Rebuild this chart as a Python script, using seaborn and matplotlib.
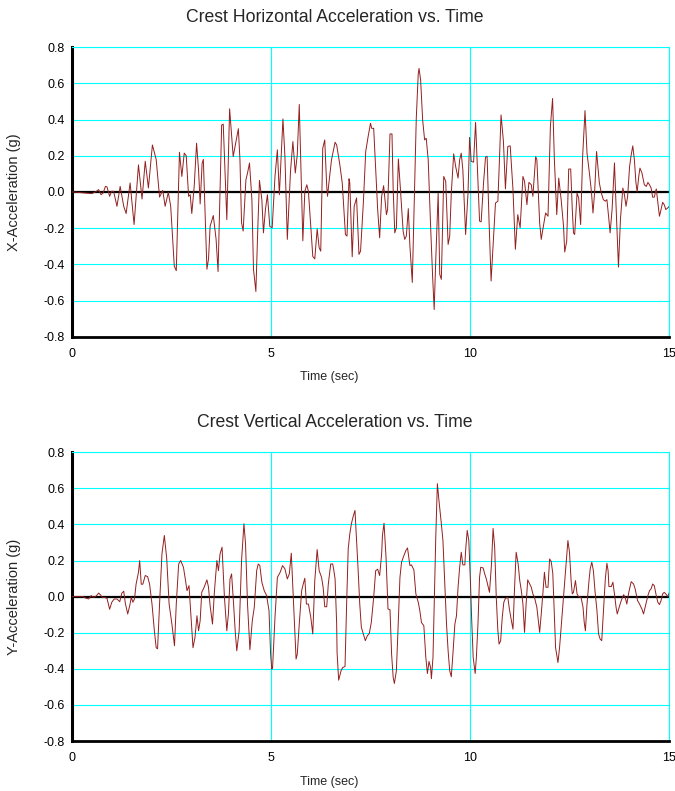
import numpy as np
import pandas as pd
import matplotlib
matplotlib.use("Agg")
import matplotlib.pyplot as plt
import seaborn as sns

# Crest horizontal acceleration record (time in s, acceleration in g)
time_x = [0.00, 0.04, 0.29, 0.50, 0.585, 0.67, 0.73, 0.78, 0.84, 0.88, 0.945, 0.995, 1.045,
          1.13, 1.21, 1.30, 1.36, 1.46, 1.56, 1.67, 1.76, 1.84, 1.92, 2.02, 2.115, 2.20, 2.28,
          2.34, 2.42, 2.48, 2.57, 2.62, 2.70, 2.76, 2.82, 2.87, 2.93, 2.97, 3.01,
          3.07, 3.13, 3.18, 3.22, 3.27, 3.30, 3.39, 3.43, 3.47, 3.55, 3.62, 3.67, 3.76, 3.80,
          3.89, 3.96, 4.05, 4.12, 4.18, 4.22, 4.26, 4.30, 4.37, 4.41, 4.46, 4.52, 4.56, 4.62,
          4.67, 4.71, 4.77, 4.81, 4.86, 4.91, 4.97, 5.03, 5.10, 5.16, 5.21, 5.30, 5.35, 5.41,
          5.49, 5.55, 5.61, 5.66, 5.71, 5.80, 5.85, 5.90, 5.94, 6.00, 6.05, 6.10,
          6.16, 6.21, 6.25, 6.30, 6.35, 6.40, 6.42, 6.45, 6.52, 6.61, 6.65, 6.73, 6.79, 6.83,
          6.87, 6.91, 6.96, 6.98, 7.04, 7.09, 7.15, 7.21, 7.25, 7.32, 7.38, 7.44, 7.50, 7.53,
          7.58, 7.63, 7.68, 7.73, 7.78, 7.83, 7.90, 7.93, 7.99, 8.04, 8.07, 8.11, 8.15, 8.20,
          8.25, 8.32, 8.36, 8.40, 8.45, 8.49, 8.55, 8.61, 8.65, 8.70, 8.72, 8.76, 8.81, 8.86,
          8.90, 8.95, 9.01, 9.06, 9.10,
          9.14, 9.20, 9.24, 9.28, 9.34, 9.39, 9.45, 9.49, 9.53, 9.59, 9.64, 9.70, 9.74, 9.78,
          9.82, 9.89, 9.95, 9.99, 10.03, 10.09, 10.14, 10.20, 10.24, 10.28, 10.34, 10.39, 10.43,
          10.48, 10.53, 10.59, 10.64, 10.70, 10.74, 10.78, 10.84, 10.89, 10.95, 11.01, 11.08,
          11.14, 11.20, 11.26, 11.33, 11.37, 11.43, 11.48, 11.54, 11.58, 11.65, 11.68, 11.75,
          11.79, 11.83, 11.90, 11.96, 12.02, 12.075,
          12.12, 12.18, 12.23, 12.29, 12.35, 12.38, 12.43, 12.48, 12.53, 12.57, 12.60, 12.63,
          12.69, 12.73, 12.78, 12.83, 12.89, 12.94, 13.00, 13.05, 13.09, 13.13, 13.18, 13.25,
          13.30, 13.35, 13.40, 13.44, 13.49, 13.52, 13.57, 13.63, 13.67, 13.73, 13.78, 13.84,
          13.88, 13.92, 13.96, 14.01, 14.05, 14.09, 14.13, 14.17, 14.20, 14.24, 14.27, 14.32,
          14.38, 14.43, 14.47, 14.51, 14.55, 14.59, 14.63, 14.68, 14.72, 14.76, 14.80, 14.84,
          14.88, 14.92, 14.97, 15.00]
acc_x = [0.0, 0.0, -0.005, -0.009, 0.0, 0.013, -0.015, -0.006, 0.031, 0.028, -0.024, 0.004, 0.004,
         -0.079, 0.031, -0.079, -0.119, 0.05, -0.18, 0.15, -0.039, 0.17, 0.022, 0.26, 0.18, -0.028, 0.009,
         -0.079, -0.002, -0.079, -0.41, -0.435, 0.22, 0.086, 0.215, 0.20, -0.024, -0.015, -0.119,
         0.03, 0.27, 0.12, -0.066, 0.16, 0.18, -0.427, -0.37, -0.19, -0.13, -0.26, -0.44, 0.37, 0.375,
         -0.153, 0.46, 0.196, 0.28, 0.35, 0.178, -0.17, -0.216, 0.068, 0.105, 0.16, -0.042, -0.427, -0.55,
         -0.19, 0.064, -0.042, -0.226, -0.097, -0.015, -0.19, -0.198, 0.086, 0.233, -0.015, 0.404, 0.196, -0.262,
         0.114, 0.279, 0.105, 0.206, 0.484, -0.27, 0.004, 0.04, 0.004, -0.19, -0.356, -0.37,
         -0.204, -0.308, -0.327, 0.242, 0.288, 0.031, -0.024, 0.04, 0.178, 0.275, 0.26, 0.15, 0.05, -0.097,
         -0.235, -0.244, 0.073, 0.05, -0.358, -0.079, -0.033, -0.345, -0.327, -0.061, 0.224, 0.306, 0.38, 0.352,
         0.352, 0.123, -0.097, -0.253, -0.024, 0.035, -0.125, -0.097, 0.321, 0.321, 0.013, -0.226, -0.198, 0.183,
         0.022, -0.217, -0.262, -0.244, -0.092, -0.299, -0.50, 0.031, 0.407, 0.655, 0.683, 0.618, 0.398, 0.288,
         0.297, 0.178, -0.189, -0.463, -0.65,
         -0.373, -0.006, -0.455, -0.483, 0.086, 0.059, -0.290, -0.244, -0.006, 0.211, 0.141, 0.077, 0.178, 0.215,
         0.123, -0.235, -0.006, 0.302, 0.169, 0.165, 0.385, 0.05, -0.161, -0.165, 0.05, 0.193, 0.197,
         -0.171, -0.492, -0.262, -0.061, -0.051, 0.178, 0.426, 0.279, 0.017, 0.252, 0.255, 0.013,
         -0.317, -0.125, -0.198, 0.086, 0.059, -0.070, 0.053, 0.040, -0.024, 0.196, 0.178, -0.171,
         -0.262, -0.207, -0.116, -0.134, 0.363, 0.517,
         0.178, -0.125, 0.077, -0.042, -0.189, -0.332, -0.272, 0.127, 0.127, -0.097, -0.226, -0.235,
         -0.006, -0.033, -0.180, 0.196, 0.45, 0.215, 0.105, 0.004, -0.116, -0.006, 0.224, 0.05,
         -0.006, -0.042, -0.051, -0.042, -0.153, -0.226, -0.097, 0.161, -0.079, -0.415, -0.152, 0.022,
         -0.015, -0.079, -0.024, 0.141, 0.205, 0.255, 0.178, 0.050, 0.0, 0.086, 0.132, 0.105,
         0.040, 0.031, 0.053, 0.040, 0.022, -0.029, -0.028, 0.017, -0.061, -0.134, -0.097, -0.057,
         -0.070, -0.097, -0.088, -0.08]

# Crest vertical acceleration record (time in s, acceleration in g)
time_y = [0.00, 0.06, 0.29, 0.33, 0.42, 0.48, 0.54, 0.61, 0.67, 0.71, 0.77, 0.81, 0.88, 0.945,
          1.00, 1.06, 1.13, 1.20, 1.25, 1.30, 1.34, 1.40, 1.45, 1.49, 1.53, 1.57, 1.61, 1.67,
          1.70, 1.74, 1.78, 1.84, 1.90, 1.95, 2.01, 2.07, 2.115, 2.15, 2.20, 2.26, 2.32, 2.38,
          2.44, 2.51, 2.575, 2.62, 2.68, 2.73, 2.80, 2.84, 2.89, 2.94, 2.99, 3.04,
          3.09, 3.14, 3.18, 3.22, 3.26, 3.32, 3.39, 3.43, 3.47, 3.53, 3.58, 3.64, 3.68, 3.72,
          3.77, 3.83, 3.89, 3.93, 3.97, 4.01, 4.06, 4.10, 4.14, 4.20, 4.26, 4.32, 4.36, 4.41,
          4.47, 4.53, 4.58, 4.64, 4.68, 4.72, 4.77, 4.83, 4.89, 4.95, 4.99, 5.02, 5.04, 5.10,
          5.16, 5.23, 5.29, 5.35, 5.41, 5.46, 5.51, 5.56, 5.63, 5.66, 5.71, 5.77, 5.81, 5.85,
          5.89, 5.94, 6.00, 6.05,
          6.10, 6.16, 6.21, 6.27, 6.31, 6.35, 6.40, 6.44, 6.50, 6.55, 6.58, 6.61, 6.65, 6.66,
          6.70, 6.76, 6.80, 6.86, 6.90, 6.94, 6.98, 7.02, 7.06, 7.11, 7.15, 7.19, 7.23, 7.27,
          7.32, 7.37, 7.42, 7.47, 7.52, 7.58, 7.63, 7.68, 7.73, 7.78, 7.80, 7.84, 7.89, 7.94,
          7.99, 8.03, 8.07, 8.10, 8.15, 8.19, 8.24, 8.28, 8.34, 8.39, 8.43, 8.49, 8.53, 8.59,
          8.64, 8.70, 8.74, 8.78, 8.84, 8.89, 8.93, 8.97, 9.01, 9.03, 9.07, 9.11,
          9.14, 9.18, 9.22, 9.28, 9.32, 9.36, 9.41, 9.45, 9.49, 9.53, 9.57, 9.62, 9.66, 9.70,
          9.74, 9.78, 9.82, 9.87, 9.89, 9.93, 9.97, 10.01, 10.04, 10.08, 10.13, 10.16, 10.20,
          10.24, 10.27, 10.33, 10.37, 10.41, 10.45, 10.49, 10.54, 10.58, 10.62, 10.66, 10.70,
          10.73, 10.77, 10.81, 10.85, 10.89, 10.95, 10.99, 11.04, 11.08, 11.12, 11.16, 11.21,
          11.25, 11.29, 11.33, 11.37, 11.41, 11.45, 11.50, 11.54, 11.58, 11.62, 11.68, 11.75,
          11.79, 11.83, 11.87, 11.91, 11.96, 12.00, 12.04, 12.08,
          12.11, 12.15, 12.21, 12.25, 12.29, 12.33, 12.37, 12.42, 12.46, 12.50, 12.54, 12.57,
          12.60, 12.65, 12.69, 12.73, 12.79, 12.84, 12.87, 12.90, 12.94, 12.99, 13.02, 13.06,
          13.10, 13.14, 13.19, 13.23, 13.27, 13.31, 13.35, 13.40, 13.44, 13.47, 13.49, 13.55,
          13.59, 13.63, 13.67, 13.70, 13.76, 13.80, 13.86, 13.90, 13.94, 13.99, 14.05, 14.11,
          14.15, 14.21, 14.26, 14.32, 14.36, 14.42, 14.47, 14.51, 14.55, 14.59, 14.63, 14.68,
          14.72, 14.76, 14.80, 14.84, 14.88, 14.92, 14.97, 15.00]
acc_y = [0.0, 0.0, 0.0, -0.007, -0.013, 0.006, -0.004, 0.004, 0.020, 0.011, -0.006, -0.004, -0.009, -0.070,
         -0.031, -0.013, -0.013, -0.028, 0.019, 0.030, -0.037, -0.096, -0.050, -0.004, -0.031, -0.013, 0.069, 0.135,
         0.2, 0.069, 0.069, 0.117, 0.111, 0.069, -0.041, -0.19, -0.283, -0.289, -0.041, 0.237, 0.339, 0.211,
         -0.041, -0.152, -0.272, -0.041, 0.181, 0.2, 0.163, 0.107, 0.033, 0.061, -0.115, -0.283,
         -0.226, -0.106, -0.189, -0.133, 0.024, 0.052, 0.093, 0.052, -0.05, -0.152, 0.033, 0.2, 0.144, 0.237,
         0.274, -0.004, -0.189, -0.096, 0.098, 0.126, -0.041, -0.189, -0.3, -0.189, 0.2, 0.404, 0.293, -0.041,
         -0.294, -0.133, -0.059, 0.144, 0.181, 0.172, 0.080, 0.033, 0.006, -0.078, -0.319, -0.402, -0.393, -0.115,
         0.107, 0.135, 0.172, 0.154, 0.098, 0.126, 0.241, -0.004, -0.346, -0.319, -0.152, 0.033, 0.07, 0.102,
         -0.041, -0.041, -0.115, -0.207,
         0.089, 0.261, 0.144, 0.107, 0.052, -0.056, -0.056, 0.070, 0.181, 0.181, 0.144, 0.098, -0.152, -0.309,
         -0.463, -0.411, -0.393, -0.387, -0.041, 0.265, 0.348, 0.404, 0.441, 0.478, 0.311, 0.144, -0.041, -0.17,
         -0.207, -0.244, -0.217, -0.204, -0.143, -0.004, 0.144, 0.152, 0.117, 0.237, 0.339, 0.407, 0.219, -0.069,
         -0.072, -0.319, -0.448, -0.481, -0.411, -0.189, 0.107, 0.191, 0.228, 0.256, 0.270, 0.172, 0.176, 0.148,
         0.015, -0.031, -0.078, -0.143, -0.161, -0.337, -0.426, -0.359, -0.393, -0.455, -0.337, 0.033,
         0.330, 0.626, 0.533, 0.404, 0.311, 0.107, -0.152, -0.3, -0.411, -0.444, -0.319, -0.152, -0.106, 0.052,
         0.163, 0.246, 0.176, 0.176, 0.256, 0.367, 0.311, 0.089, -0.115, -0.337, -0.426, -0.337, -0.152,
         0.107, 0.163, 0.159, 0.126, 0.098, 0.061, 0.024, 0.181, 0.378, 0.274, -0.004, -0.189,
         -0.263, -0.244, -0.115, -0.031, -0.009, -0.004, -0.069, -0.133, -0.18, 0.052, 0.246, 0.181,
         0.089, 0.033, -0.041, -0.198, -0.041, 0.093, 0.070, 0.052, 0.015, -0.004, -0.059, -0.198,
         -0.096, 0.015, 0.135, 0.052, 0.052, 0.209, 0.195, 0.13,
         -0.041, -0.283, -0.365, -0.283, -0.170, -0.059, 0.052, 0.2, 0.311, 0.246, 0.089, 0.015,
         0.024, 0.089, 0.015, 0.0, -0.004, -0.059, -0.143, -0.189, -0.041, 0.089, 0.154, 0.191,
         0.144, 0.033, -0.078, -0.207, -0.235, -0.244, -0.096, 0.098, 0.185, 0.144, 0.056, 0.056,
         0.080, 0.015, -0.059, -0.096, -0.050, -0.022, 0.011, -0.004, -0.041, 0.024, 0.083, 0.070,
         0.043, -0.022, -0.041, -0.069, -0.096, -0.041, 0.006, 0.033, 0.043, 0.070, 0.061, 0.006,
         -0.031, -0.044, -0.022, 0.015, 0.024, 0.015, 0.0, 0.02]

x_ticks = [0, 5, 10, 15]
y_ticks = [-0.8, -0.6, -0.4, -0.2, 0.0, 0.2, 0.4, 0.6, 0.8]
y_tick_labels = ["-0.8", "-0.6", "-0.4", "-0.2", "0.0", "0.2", "0.4", "0.6", "0.8"]

panels = [
    ("Crest Horizontal Acceleration vs. Time", "X-Acceleration (g)", time_x, acc_x),
    ("Crest Vertical Acceleration vs. Time", "Y-Acceleration (g)", time_y, acc_y),
]

sns.set_style("white")
plt.rcParams["font.family"] = ["Liberation Sans", "DejaVu Sans"]

W, H = 675, 791
fig = plt.figure(figsize=(W / 100, H / 100), dpi=100)
axes_px = [(72, 47.3, 669, 336.7), (72, 452.3, 669, 741.0)]
title_y_px = [18, 422]

line_color = "#931f1f"
grid_color = "#00ffff"

for (title, ylabel, t, a), (x0, y0, x1, y1), ty in zip(panels, axes_px, title_y_px):
    ax = fig.add_axes([x0 / W, 1 - y1 / H, (x1 - x0) / W, (y1 - y0) / H])
    df = pd.DataFrame({"t": t, "a": a})
    ax.axhline(0, color="black", lw=1.6, zorder=2)
    sns.lineplot(data=df, x="t", y="a", ax=ax, color=line_color, linewidth=0.7,
                 estimator=None, sort=False, zorder=3)
    ax.set_xlim(0, 15)
    ax.set_ylim(-0.8, 0.8)
    ax.set_xticks(x_ticks)
    ax.set_xticklabels([str(v) for v in x_ticks])
    ax.set_yticks(y_ticks)
    ax.set_yticklabels(y_tick_labels)
    ax.grid(True, color=grid_color, lw=0.8, zorder=0)
    ax.set_axisbelow(True)
    for side in ("top", "right"):
        ax.spines[side].set_color(grid_color)
        ax.spines[side].set_linewidth(0.8)
    ax.spines["left"].set_color("black")
    ax.spines["left"].set_linewidth(2.2)
    ax.spines["bottom"].set_color("black")
    ax.spines["bottom"].set_linewidth(2.0)
    ax.tick_params(axis="both", direction="inout", length=8, width=1.5,
                   labelsize=9, colors="black")
    ax.tick_params(axis="y", pad=1)
    ax.tick_params(axis="x", pad=4)
    ax.set_xlabel("Time (sec)", fontsize=9)
    ax.xaxis.set_label_coords(0.43, -0.12)
    ax.set_ylabel(ylabel, fontsize=10.5)
    ax.yaxis.set_label_coords(-0.086, 0.5)
    fig.text(0.496, 1 - ty / H, title, ha="center", va="center", fontsize=12.7)

fig.savefig("out.png", dpi=100)
